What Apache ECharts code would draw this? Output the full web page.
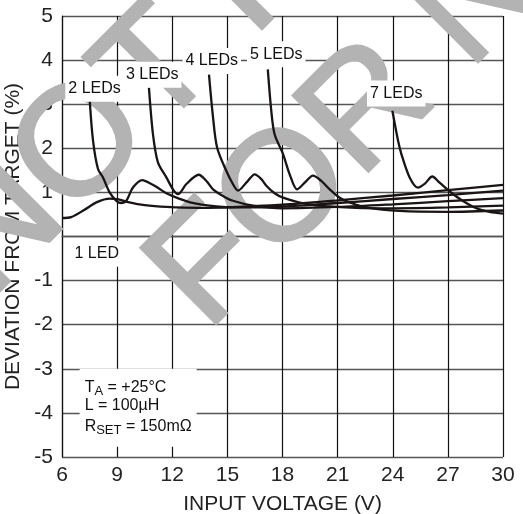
<!DOCTYPE html>
<html><head><meta charset="utf-8">
<script src="https://cdn.jsdelivr.net/npm/echarts@6/dist/echarts.min.js"></script>
<style>html,body{margin:0;padding:0;background:#fff}#c{width:523px;height:514px}</style>
</head><body><div id="c"></div>
<script>
// ---- data ----
const xTickMin = 6, xTickMax = 30, xTickStep = 3;
const yTickMin = -5, yTickMax = 5, yTickStep = 1;
const xName = 'INPUT VOLTAGE (V)';
const yName = 'DEVIATION FROM TARGET (%)';

const led1 = [[6,0.42],[6.5,0.44],[7.2,0.6],[7.9,0.78],[8.6,0.86],[9.0,0.85],[9.6,0.78],[10.5,0.71],[11.7,0.67],[13.5,0.65],[15,0.66],[18,0.72],[21,0.82],[24,0.93],[27,1.05],[30,1.17]];
const led2 = [[7.51,3.08],[7.69,2.17],[7.96,1.53],[8.23,1.34],[8.59,1.0],[8.96,0.81],[9.23,0.76],[9.5,0.81],[9.86,1.11],[10.37,1.28],[10.86,1.19],[11.2,1.11],[11.68,0.98],[12.3,0.87],[13.1,0.76],[14.4,0.68],[15.5,0.66],[18,0.68],[21,0.76],[24,0.85],[27,0.94],[30,1.04]];
const led3 = [[10.73,3.38],[10.95,2.32],[11.22,1.68],[11.68,1.34],[12.04,1.07],[12.31,0.96],[12.77,1.19],[13.44,1.40],[13.86,1.26],[14.22,1.07],[14.76,0.92],[15.3,0.81],[16.4,0.70],[18.0,0.64],[21,0.67],[24,0.73],[27,0.8],[30,0.87]];
const led4 = [[14.0,3.67],[14.22,2.7],[14.44,2.02],[14.94,1.49],[15.3,1.19],[15.58,1.04],[16.03,1.22],[16.49,1.41],[16.85,1.30],[17.12,1.15],[17.57,0.98],[18.03,0.88],[18.93,0.77],[20.0,0.70],[22,0.65],[24,0.64],[27,0.66],[30,0.70]];
const led5 = [[17.2,3.79],[17.39,2.85],[17.57,2.32],[18.03,1.87],[18.39,1.41],[18.79,1.07],[19.21,1.22],[19.66,1.38],[20.11,1.26],[20.57,1.07],[21.11,0.88],[21.66,0.77],[22.56,0.66],[24.38,0.58],[27,0.56],[30,0.59]];
const led7 = [[23.98,2.85],[24.29,2.17],[24.47,1.87],[24.92,1.34],[25.37,1.11],[25.75,1.2],[26.15,1.36],[26.55,1.22],[27.1,1.02],[27.8,0.81],[28.55,0.64],[29.27,0.56],[30,0.52]];

const seriesNames = ['1 LED','2 LEDs','3 LEDs','4 LEDs','5 LEDs','7 LEDs'];
const seriesData = [led1, led2, led3, led4, led5, led7];
// label anchors in data units (V, %)
const labelAnchors = [[7.89,-0.39],[7.77,3.35],[10.91,3.67],[14.15,3.98],[17.66,4.13],[24.19,3.24]];
const noteLines = [['T','A',' = +25°C'],['L = 100µH','',''],['R','SET',' = 150mΩ']];
const watermarkLines = ['NOT RECOMMENDED','FOR NEW DESIGNS'];

// ---- chart ----
const FONT = '"Liberation Sans", Arial, sans-serif';
const chart = echarts.init(document.getElementById('c'), null, {renderer:'canvas'});
chart.setOption({
  animation:false,
  backgroundColor:'#fff',
  grid:{left:62, right:20, top:16, bottom:57, containLabel:false, outerBoundsMode:'none'},
  xAxis:{type:'value', min:xTickMin, max:xTickMax, interval:xTickStep,
    name:xName, nameLocation:'middle', nameGap:37,
    nameTextStyle:{fontFamily:FONT, fontSize:21, color:'#222'},
    axisLine:{show:true, lineStyle:{color:'#555', width:1.3}},
    axisTick:{show:false},
    axisLabel:{fontFamily:FONT, fontSize:21, color:'#222', margin:8},
    splitLine:{show:true, lineStyle:{color:'#111', width:1.2}}},
  yAxis:{type:'value', min:yTickMin, max:yTickMax, interval:yTickStep,
    name:yName, nameLocation:'middle', nameGap:36,
    nameTextStyle:{fontFamily:FONT, fontSize:21, color:'#222'},
    axisLine:{show:true, lineStyle:{color:'#111', width:1.2}},
    axisTick:{show:false},
    axisLabel:{fontFamily:FONT, fontSize:21, color:'#222', margin:9},
    splitLine:{show:true, lineStyle:{color:'#555', width:1.3}}},
  series: seriesData.map((d,i)=>({
    type:'line', name:seriesNames[i], data:d, smooth:0.3, symbol:'none', z:5,
    lineStyle:{color:'#1a1414', width:2.3}
  }))
});

const px = p => chart.convertToPixel({gridIndex:0}, p);
const g = [];
// watermark
const wmStarts = [[-39,269],[177,302]];
watermarkLines.forEach((t,i)=>{
  g.push({type:'text', x:wmStarts[i][0], y:wmStarts[i][1], rotation:Math.PI/4, z:1, silent:true,
    style:{text:t, fill:'#b3b3b3', stroke:'#b3b3b3', lineWidth:3, fontSize:155, fontFamily:FONT, align:'left', verticalAlign:'middle'}});
});
// curve labels
seriesNames.forEach((t,i)=>{
  const p = px(labelAnchors[i]);
  g.push({type:'text', x:p[0], y:p[1], z:20, silent:true,
    style:{text:t, fill:'#111', fontSize:16, fontFamily:FONT, align:'center', verticalAlign:'middle',
      backgroundColor:'#fff', padding:[5,3,5,3]}});
});
// conditions box
const b0 = px([6.96,-3.0]), b1 = px([13.33,-4.77]);
g.push({type:'rect', z:19, silent:true, shape:{x:b0[0], y:b0[1], width:b1[0]-b0[0], height:b1[1]-b0[1]}, style:{fill:'#fff'}});
const lineY = [387.5-b0[1], 406-b0[1], 426.5-b0[1]];
const ctx = document.createElement('canvas').getContext('2d');
noteLines.forEach((ln,i)=>{
  let x = b0[0]+5, y = b0[1]+lineY[i];
  g.push({type:'text', x:x, y:y, z:21, silent:true, style:{text:ln[0], fill:'#111', fontSize:16, fontFamily:FONT, align:'left', verticalAlign:'middle'}});
  ctx.font = '16px ' + FONT; x += ctx.measureText(ln[0]).width;
  if (ln[1]) {
    g.push({type:'text', x:x, y:y+4, z:21, silent:true, style:{text:ln[1], fill:'#111', fontSize:13, fontFamily:FONT, align:'left', verticalAlign:'middle'}});
    ctx.font = '13px ' + FONT; x += ctx.measureText(ln[1]).width;
  }
  if (ln[2]) g.push({type:'text', x:x, y:y, z:21, silent:true, style:{text:ln[2], fill:'#111', fontSize:16, fontFamily:FONT, align:'left', verticalAlign:'middle'}});
});
chart.setOption({graphic:g});
</script></body></html>
